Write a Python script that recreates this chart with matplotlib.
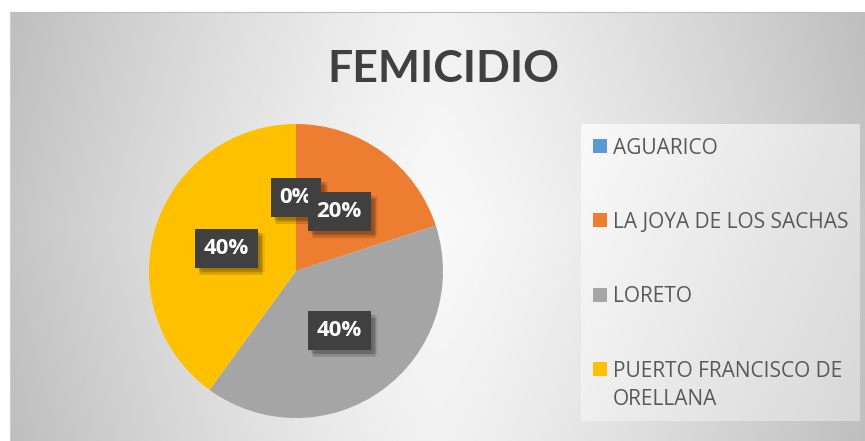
import numpy as np
import matplotlib.pyplot as plt
from matplotlib.patches import Rectangle
import matplotlib.patheffects as pe

plt.rcParams['font.family'] = ['Open Sans', 'DejaVu Sans']

# datos
titulo = 'FEMICIDIO'
cantones = ['AGUARICO', 'LA JOYA DE LOS SACHAS', 'LORETO',
            'PUERTO FRANCISCO DE\nORELLANA']
casos = [0, 1, 2, 2]
colores = ['#5B9BD5', '#ED7D31', '#A5A5A5', '#FFC000']

W, H = 865, 441
fig = plt.figure(figsize=(W / 100, H / 100), dpi=100)
fig.patch.set_facecolor('white')


def px(x0, y0, x1, y1):
    # caja en pixeles (origen arriba-izquierda) -> fraccion de figura
    return [x0 / W, 1 - y1 / H, (x1 - x0) / W, (y1 - y0) / H]


# fondo con degradado
bg = fig.add_axes(px(10, 12, W, H), zorder=0)
xx, yy = np.meshgrid(np.linspace(-1, 1, 400), np.linspace(-1, 1, 200))
fondo = 0.975 - 0.20 * np.abs(xx) ** 1.3 - 0.03 * np.abs(yy)
bg.imshow(fondo, cmap='gray', vmin=0, vmax=1, aspect='auto', extent=(0, 1, 0, 1))
bg.set_xticks([])
bg.set_yticks([])
for lado in ['right', 'bottom']:
    bg.spines[lado].set_visible(False)
bg.spines['top'].set_color('#bdbdbd')
bg.spines['left'].set_color('#cfcfcf')

# fondo de la leyenda
lg = fig.add_axes(px(581, 124, 860, 421), zorder=1)
lx, ly = np.meshgrid(np.linspace(0, 1, 200), np.linspace(0, 1, 200))
lg.imshow(0.975 - 0.09 * lx - 0.04 * ly, cmap='gray', vmin=0, vmax=1,
          aspect='auto', extent=(0, 1, 0, 1))
lg.axis('off')

# pastel
ax = fig.add_axes(px(149, 124, 443, 418), zorder=2)
wedges, texts, autotexts = ax.pie(
    casos, colors=colores, startangle=90, counterclock=False,
    autopct='%.0f%%', pctdistance=0.5, wedgeprops=dict(linewidth=0),
    textprops=dict(color='white', fontsize=16, fontweight='bold'))
ax.set_xlim(-1, 1)
ax.set_ylim(-1, 1)

# sombra difusa de las etiquetas
sombra = [pe.SimplePatchShadow(offset=(dx, -dy), shadow_rgbFace='#000000', alpha=0.07)
          for dx, dy in [(2, 2), (3, 3), (4, 4), (3, 5), (5, 3), (4, 5)]]
for t in autotexts:
    t.set_bbox(dict(boxstyle='square,pad=0.4', fc='#404040', ec='none', lw=0))
    t.get_bbox_patch().set_path_effects(sombra + [pe.Normal()])

# titulo
fig.text(443 / W, 1 - 82 / H, titulo, ha='center', va='baseline',
         fontsize=32, fontweight='bold', color='#404040',
         family=['Lato', 'DejaVu Sans'])

# leyenda
y0, paso, interlinea = 146, 74.3, 29
for i, (nombre, color) in enumerate(zip(cantones, colores)):
    yc = y0 + i * paso
    extra = interlinea * nombre.count('\n')
    fig.patches.append(Rectangle((593 / W, 1 - (yc + 7) / H), 14 / W, 14 / H,
                                 transform=fig.transFigure, fc=color,
                                 ec='none', zorder=5))
    fig.text(613 / W, 1 - (yc + 7.5 + extra) / H, nombre, ha='left',
             va='baseline', fontsize=15, color='#595959', linespacing=1.49,
             zorder=5)

fig.savefig('out.png', dpi=100)
